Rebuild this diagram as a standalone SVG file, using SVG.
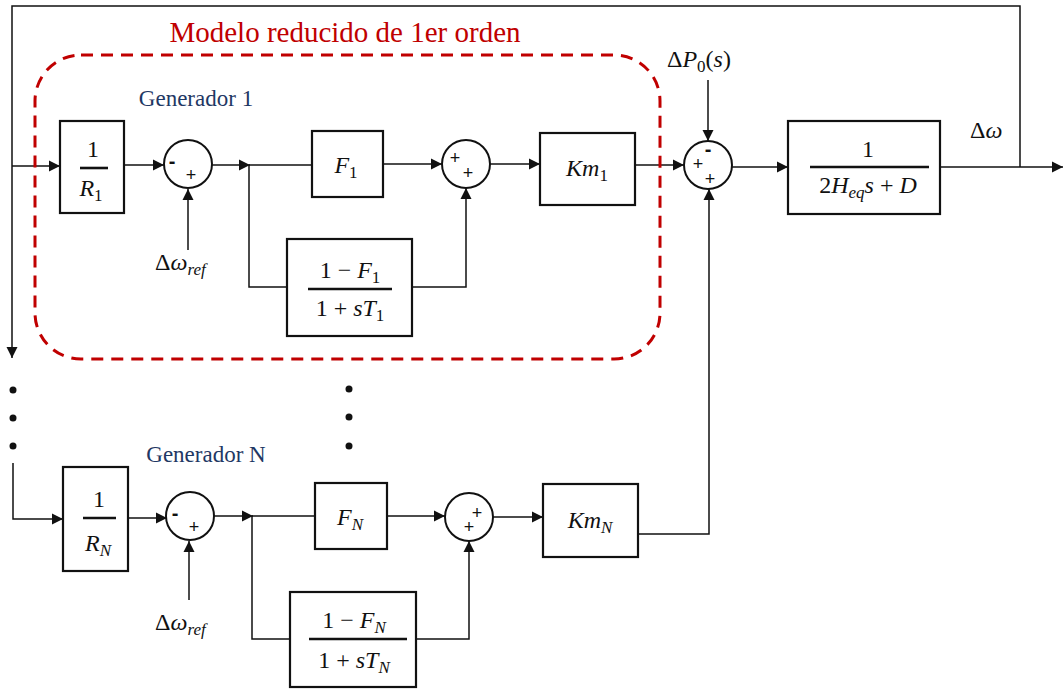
<svg xmlns="http://www.w3.org/2000/svg" width="1064" height="689" viewBox="0 0 1064 689">
<style>
.ln{fill:none;stroke:#111;stroke-width:1.5}
.bx{fill:#fff;stroke:#111;stroke-width:2.2}
.sm{fill:#fff;stroke:#111;stroke-width:2}
.fr{stroke:#111;stroke-width:2.6}
.m{font-family:"Liberation Serif","DejaVu Serif",serif;font-size:24px;fill:#111}
.i{font-style:italic}
.sub{font-size:17px}
.sg{font-family:"Liberation Sans","DejaVu Sans",sans-serif;font-size:18px;fill:#111}
.mn{font-weight:bold;font-size:20px}
.gen{font-family:"Liberation Serif",serif;font-size:23px;fill:#1f3864}
.ttl{font-family:"Liberation Serif",serif;font-size:29px;fill:#c00000}
.dot{fill:#111}
</style>
<defs>
<marker id="ar" viewBox="0 0 10 10" refX="10" refY="5" markerWidth="11" markerHeight="12" markerUnits="userSpaceOnUse" orient="auto">
<path d="M0,0 L10,5 L0,10 z" fill="#111"/>
</marker>
</defs>
<rect width="1064" height="689" fill="#fff"/>

<g id="connectors">
<path class="ln" d="M940,167 L1063,167" marker-end="url(#ar)"/>
<path class="ln" d="M1020,167 L1020,6 L12,6 L12,358" marker-end="url(#ar)"/>
<path class="ln" d="M12,166 L60,166" marker-end="url(#ar)"/>
<path class="ln" d="M124,165 L164,165" marker-end="url(#ar)"/>
<path class="ln" d="M188,250 L188,189" marker-end="url(#ar)"/>
<path class="ln" d="M212,165 L250,165" marker-end="url(#ar)"/>
<path class="ln" d="M249,165 L312,165"/>
<path class="ln" d="M249,165 L249,287 L287,287"/>
<path class="ln" d="M383,164 L442,164" marker-end="url(#ar)"/>
<path class="ln" d="M412,287 L466,287 L466,188" marker-end="url(#ar)"/>
<path class="ln" d="M490,164 L540,164" marker-end="url(#ar)"/>
<path class="ln" d="M635,165 L684,165" marker-end="url(#ar)"/>
<path class="ln" d="M708,80 L708,141" marker-end="url(#ar)"/>
<path class="ln" d="M732,167 L788,167" marker-end="url(#ar)"/>
<path class="ln" d="M638,534 L709,534 L709,189" marker-end="url(#ar)"/>
<path class="ln" d="M13,463 L13,519 L63,519" marker-end="url(#ar)"/>
<path class="ln" d="M128,518 L167,518" marker-end="url(#ar)"/>
<path class="ln" d="M189,600 L189,541" marker-end="url(#ar)"/>
<path class="ln" d="M214,516 L253,516" marker-end="url(#ar)"/>
<path class="ln" d="M252,516 L315,516"/>
<path class="ln" d="M252,516 L252,639 L290,639"/>
<path class="ln" d="M387,516 L445,516" marker-end="url(#ar)"/>
<path class="ln" d="M416,639 L469,639 L469,541" marker-end="url(#ar)"/>
<path class="ln" d="M493,517 L543,517" marker-end="url(#ar)"/>
</g>

<g id="reduced-model">
<rect x="35" y="55" width="625" height="304" rx="46" ry="46" fill="none" stroke="#c00000" stroke-width="3" stroke-dasharray="12,8"/>
<text class="ttl" x="345" y="42" text-anchor="middle">Modelo reducido de 1er orden</text>
</g>

<g id="gen1-label"><text class="gen" x="196" y="106" text-anchor="middle">Generador 1</text></g>
<g id="genN-label"><text class="gen" x="206" y="462" text-anchor="middle">Generador N</text></g>

<g id="R1">
<rect class="bx" x="60" y="121" width="64" height="92"/>
<text class="m" x="93" y="157" text-anchor="middle">1</text>
<line class="fr" x1="80" y1="168" x2="108" y2="168"/>
<text class="m i" x="91" y="196" text-anchor="middle">R<tspan class="sub" font-style="normal" dy="5">1</tspan></text>
</g>

<g id="sum1">
<circle class="sm" cx="188" cy="164" r="24"/>
<text class="sg mn" x="172" y="168" text-anchor="middle">-</text>
<text class="sg" x="191" y="181" text-anchor="middle">+</text>
</g>
<g id="wref1"><text class="m" x="155" y="270">Δ<tspan class="i">ω</tspan><tspan class="sub i" dy="5">ref</tspan></text></g>

<g id="F1">
<rect class="bx" x="312" y="131" width="71" height="66"/>
<text class="m i" x="346" y="173" text-anchor="middle">F<tspan class="sub" font-style="normal" dy="5">1</tspan></text>
</g>

<g id="G1">
<rect class="bx" x="287" y="239" width="125" height="97"/>
<text class="m" x="350" y="278" text-anchor="middle">1 − <tspan class="i">F</tspan><tspan class="sub" dy="5">1</tspan></text>
<line class="fr" x1="308" y1="289" x2="392" y2="289"/>
<text class="m" x="350" y="316" text-anchor="middle">1 + <tspan class="i">sT</tspan><tspan class="sub" dy="5">1</tspan></text>
</g>

<g id="sum2">
<circle class="sm" cx="466" cy="164" r="24"/>
<text class="sg" x="455" y="164" text-anchor="middle">+</text>
<text class="sg" x="468" y="179" text-anchor="middle">+</text>
</g>

<g id="Km1">
<rect class="bx" x="540" y="133" width="95" height="72"/>
<text class="m i" x="587" y="176" text-anchor="middle">Km<tspan class="sub" font-style="normal" dy="5">1</tspan></text>
</g>

<g id="P0"><text class="m" x="667" y="67">Δ<tspan class="i">P</tspan><tspan class="sub" dy="5">0</tspan><tspan dy="-5">(</tspan><tspan class="i">s</tspan>)</text></g>

<g id="sum3">
<circle class="sm" cx="708" cy="165" r="24"/>
<text class="sg mn" x="708" y="156" text-anchor="middle">-</text>
<text class="sg" x="698" y="170" text-anchor="middle">+</text>
<text class="sg" x="710" y="185" text-anchor="middle">+</text>
</g>

<g id="plant">
<rect class="bx" x="788" y="121" width="152" height="93"/>
<text class="m" x="868" y="157" text-anchor="middle">1</text>
<line class="fr" x1="810" y1="167" x2="929" y2="167"/>
<text class="m" x="868" y="193" text-anchor="middle">2<tspan class="i">H</tspan><tspan class="sub i" dy="5">eq</tspan><tspan class="i" dy="-5">s</tspan> + <tspan class="i">D</tspan></text>
</g>
<g id="dw"><text class="m" x="970" y="138">Δ<tspan class="i">ω</tspan></text></g>

<g id="dots">
<circle class="dot" cx="13" cy="390" r="3.5"/>
<circle class="dot" cx="13" cy="418" r="3.5"/>
<circle class="dot" cx="13" cy="446" r="3.5"/>
<circle class="dot" cx="349" cy="389" r="3.5"/>
<circle class="dot" cx="349" cy="417" r="3.5"/>
<circle class="dot" cx="349" cy="446" r="3.5"/>
</g>

<g id="RN">
<rect class="bx" x="63" y="467" width="65" height="104"/>
<text class="m" x="99" y="507" text-anchor="middle">1</text>
<line class="fr" x1="83" y1="518" x2="116" y2="518"/>
<text class="m i" x="98" y="551" text-anchor="middle">R<tspan class="sub" dy="5">N</tspan></text>
</g>

<g id="sumN1">
<circle class="sm" cx="190" cy="516" r="24"/>
<text class="sg mn" x="175" y="520" text-anchor="middle">-</text>
<text class="sg" x="194" y="533" text-anchor="middle">+</text>
</g>
<g id="wrefN"><text class="m" x="155" y="630">Δ<tspan class="i">ω</tspan><tspan class="sub i" dy="5">ref</tspan></text></g>

<g id="FN">
<rect class="bx" x="315" y="483" width="72" height="66"/>
<text class="m i" x="350" y="525" text-anchor="middle">F<tspan class="sub" dy="5">N</tspan></text>
</g>

<g id="GN">
<rect class="bx" x="290" y="592" width="126" height="95"/>
<text class="m" x="354" y="628" text-anchor="middle">1 − <tspan class="i">F</tspan><tspan class="sub i" dy="5">N</tspan></text>
<line class="fr" x1="309" y1="639" x2="407" y2="639"/>
<text class="m" x="354" y="668" text-anchor="middle">1 + <tspan class="i">sT</tspan><tspan class="sub i" dy="5">N</tspan></text>
</g>

<g id="sumN2">
<circle class="sm" cx="469" cy="517" r="24"/>
<text class="sg" x="477" y="519" text-anchor="middle">+</text>
<text class="sg" x="469" y="533" text-anchor="middle">+</text>
</g>

<g id="KmN">
<rect class="bx" x="543" y="484" width="95" height="73"/>
<text class="m i" x="590" y="528" text-anchor="middle">Km<tspan class="sub" dy="5">N</tspan></text>
</g>
</svg>
